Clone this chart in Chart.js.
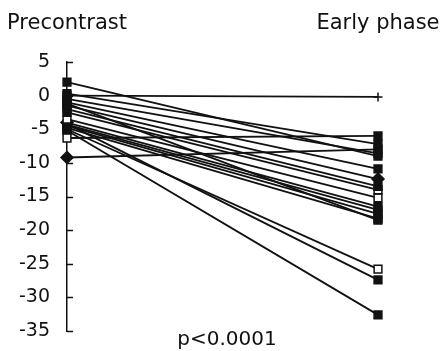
<!DOCTYPE html>
<html>
<head>
<meta charset="utf-8">
<script src="https://cdn.jsdelivr.net/npm/chart.js@4"></script>
<style>
  html, body { margin:0; padding:0; background:#fff; }
  #chart { display:block; }
</style>
</head>
<body>
<canvas id="chart" width="441" height="351"></canvas>
<script>
// phases on the x axis
const phases = ['Precontrast', 'Early phase'];
// one value per case, paired by index
const precontrast = [2, 0, 0.3, -0.5, -1, -1.5, -2, -2.5, -3.5, -4, -4.3, -4.5, -4.8, -5, -6.3, -9.2, -4.2, -5.2, -1.2];
const earlyPhase  = [-9, -0.2, -7.2, -8.6, -10.9, -12.4, -13.5, -14, -15.2, -16.5, -17, -17.6, -18.3, -25.8, -6, -8, -27.4, -32.6, -18.5];
// marker kinds: sq = filled square, open = open square, dia = diamond, plus = cross
const preMarker   = ['sq','sq','sq','sq','sq','sq','sq','sq','open','dia','sq','sq','sq','sq','open','dia','sq','sq','sq'];
const earlyMarker = ['sq','plus','sq','sq','sq','dia','sq','open','open','sq','sq','sq','sq','open','sq','sq','sq','sq','sq'];
const yTicks = [5, 0, -5, -10, -15, -20, -25, -30, -35];
const pLabel = 'p<0.0001';

const ink = '#111';
const FONT = '"DejaVu Sans", sans-serif';

function markerStyle(kind) {
  if (kind === 'open') return { style:'rect', bg:'#fff', r:5.5 };
  if (kind === 'dia') return { style:'rectRot', bg:ink, r:6 };
  if (kind === 'plus') return { style:'cross', bg:ink, r:4.5 };
  return { style:'rect', bg:ink, r:5.5 };
}

const datasets = precontrast.map((v, i) => {
  const a = markerStyle(preMarker[i]), b = markerStyle(earlyMarker[i]);
  return {
    data:[v, earlyPhase[i]],
    borderColor:ink, borderWidth:1.8,
    pointStyle:[a.style, b.style],
    pointBackgroundColor:[a.bg, b.bg],
    pointBorderColor:ink, pointBorderWidth:1.5,
    pointRadius:[a.r, b.r],
    clip:false, tension:0
  };
});

// small ticks pointing into the plot, and the p value under it
const extras = {
  id:'extras',
  beforeDatasetsDraw(chart) {
    const y = chart.scales.y, ctx = chart.ctx, x0 = chart.chartArea.left;
    ctx.save();
    ctx.strokeStyle = ink; ctx.lineWidth = 1.5;
    yTicks.forEach(t => {
      const py = Math.round(y.getPixelForValue(t)) + 0.5;
      ctx.beginPath(); ctx.moveTo(x0, py); ctx.lineTo(x0 + 6, py); ctx.stroke();
    });
    ctx.restore();
  },
  afterDraw(chart) {
    const ctx = chart.ctx;
    ctx.save();
    ctx.fillStyle = ink;
    ctx.font = '20px ' + FONT;
    ctx.textAlign = 'center'; ctx.textBaseline = 'middle';
    ctx.fillText(pLabel, 227, 340);
    ctx.restore();
  }
};

new Chart(document.getElementById('chart'), {
  type:'line',
  data:{ labels:phases, datasets },
  options:{
    responsive:false, animation:false,
    layout:{ padding:{ top:0, right:63, bottom:20, left:0 } },
    plugins:{ legend:{display:false}, tooltip:{enabled:false} },
    scales:{
      x:{
        type:'category', position:'top', offset:false,
        grid:{ display:false, drawTicks:true, tickLength:26 }, border:{ display:false },
        ticks:{ color:ink, font:{ family:FONT, size:21 }, padding:0, maxRotation:0 },
        afterFit: s => { s.height = 62; }
      },
      y:{
        min:yTicks[yTicks.length - 1], max:yTicks[0],
        grid:{ display:false, drawTicks:true, tickLength:17 },
        border:{ display:true, color:ink, width:1.5 },
        ticks:{ stepSize:5, color:ink, font:{ family:FONT, size:19 }, padding:0 },
        afterFit: s => { s.width = 67; }
      }
    }
  },
  plugins:[extras]
});
</script>
</body>
</html>
